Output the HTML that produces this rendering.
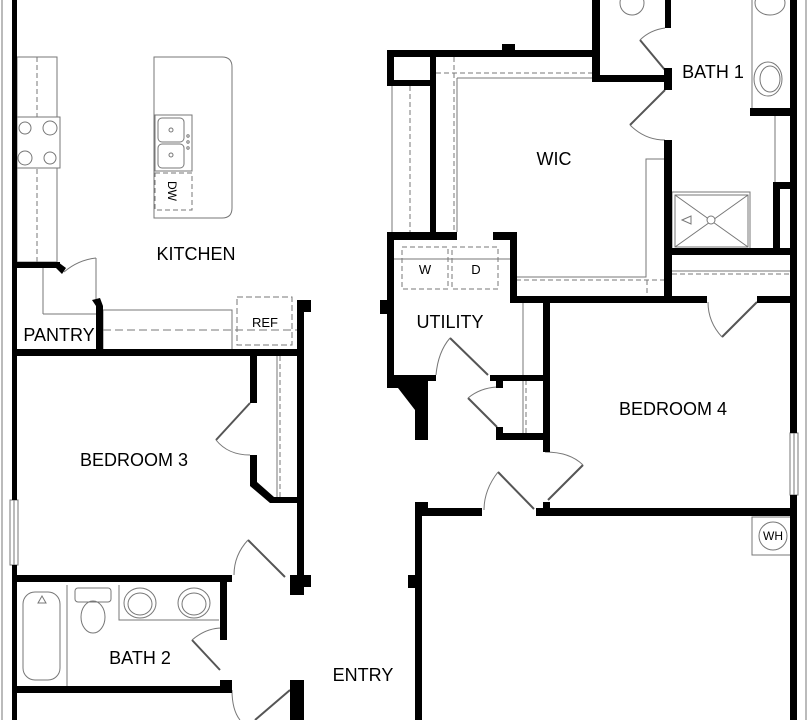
<!DOCTYPE html>
<html><head><style>html,body{margin:0;padding:0;background:#fff;}svg{display:block}</style></head>
<body>
<svg width="809" height="720" viewBox="0 0 809 720" xmlns="http://www.w3.org/2000/svg" font-family="Liberation Sans, sans-serif">
<g fill="none" stroke="#777" stroke-width="1">
 <line x1="2" y1="0" x2="2" y2="720"/>
 <line x1="806" y1="0" x2="806" y2="720"/>
 <rect x="17" y="57" width="40" height="205"/>
 <line x1="37" y1="57" x2="37" y2="262" stroke-dasharray="5,3"/>
 <rect x="17" y="117" width="43" height="51" fill="#fff"/>
 <circle cx="25" cy="128" r="6"/><circle cx="50" cy="128" r="7"/>
 <circle cx="25" cy="158" r="7"/><circle cx="50" cy="158" r="6"/>
 <path d="M154 57 H222 Q232 57 232 67 V208 Q232 218 222 218 H154 Z"/>
 <rect x="155" y="115" width="37" height="56"/>
 <rect x="158" y="118" width="26" height="24" rx="4"/>
 <rect x="158" y="144" width="26" height="24" rx="4"/>
 <circle cx="171" cy="130" r="2"/><circle cx="171" cy="155" r="2"/>
 <circle cx="188" cy="136" r="1.2"/><circle cx="188" cy="142" r="1.2"/><circle cx="188" cy="148" r="1.2"/>
 <rect x="155" y="173" width="37" height="37" stroke-dasharray="5,3"/>
 <line x1="43" y1="268" x2="43" y2="314"/>
 <line x1="43" y1="314" x2="98" y2="314"/>
 <line x1="96" y1="258" x2="96" y2="300"/>
 <path d="M64 272 Q78 260 96 258"/>
 <rect x="103" y="310" width="129" height="40"/>
 <line x1="103" y1="330" x2="297" y2="330" stroke-dasharray="8,4"/>
 <rect x="237" y="297" width="55" height="48" stroke-dasharray="6,3"/>
 <line x1="277" y1="356" x2="277" y2="497"/>
 <line x1="280" y1="356" x2="280" y2="497" stroke-dasharray="5,3"/>
 <path d="M250 403 L216 440" stroke-width="2" stroke="#555"/>
 <path d="M216 440 Q228 455 250 455"/>
 <path d="M248 540 L285 577" stroke-width="2" stroke="#555"/>
 <path d="M248 540 Q234 555 234 575"/>
 <rect x="10" y="500" width="8" height="65" fill="#fff"/>
 <line x1="14" y1="500" x2="14" y2="565"/>
 <rect x="790" y="433" width="8" height="62" fill="#fff"/>
 <line x1="794" y1="433" x2="794" y2="495"/>
 <rect x="23" y="592" width="37" height="88" rx="12"/>
 <path d="M38 603 L42 596 L46 603 Z"/>
 <line x1="67" y1="585" x2="67" y2="686"/>
 <rect x="75" y="588" width="36" height="14" rx="3"/>
 <ellipse cx="93" cy="617" rx="12" ry="16"/>
 <path d="M119 585 V620 H219"/>
 <ellipse cx="140" cy="603" rx="16" ry="15"/><ellipse cx="140" cy="604" rx="12" ry="11"/>
 <ellipse cx="194" cy="603" rx="16" ry="15"/><ellipse cx="194" cy="604" rx="12" ry="11"/>
 <path d="M192 640 L220 670" stroke-width="2" stroke="#555"/>
 <path d="M192 640 Q206 628 222 628"/>
 <path d="M290 690 L255 720" stroke-width="2" stroke="#555"/>
 <path d="M232 690 Q232 710 240 720"/>
 <line x1="392" y1="86" x2="392" y2="235"/>
 <line x1="410" y1="86" x2="410" y2="235" stroke-dasharray="5,3"/>
 <line x1="454" y1="57" x2="454" y2="232" stroke-dasharray="5,3"/>
 <line x1="436" y1="73" x2="592" y2="73" stroke-dasharray="5,3"/>
 <path d="M457 78 H592 M457 78 V232"/>
 <path d="M516 277 H646 V159 H665"/>
 <line x1="516" y1="280" x2="665" y2="280" stroke-dasharray="5,3"/>
 <line x1="647" y1="280" x2="647" y2="296" stroke-dasharray="5,3"/>
 <line x1="394" y1="259" x2="510" y2="259"/>
 <rect x="402" y="247" width="46" height="42" stroke-dasharray="5,3"/>
 <rect x="452" y="247" width="46" height="42" stroke-dasharray="5,3"/>
 <ellipse cx="632" cy="3" rx="12" ry="12"/>
 <path d="M640 40 L665 70" stroke-width="2" stroke="#555"/>
 <path d="M640 40 Q650 30 665 28"/>
 <path d="M665 90 L630 125" stroke-width="2" stroke="#555"/>
 <path d="M630 125 Q645 140 665 140"/>
 <line x1="752" y1="0" x2="752" y2="108"/>
 <ellipse cx="770" cy="3" rx="15" ry="12"/>
 <ellipse cx="768" cy="79" rx="14" ry="17"/><ellipse cx="770" cy="79" rx="10" ry="13"/>
 <line x1="775" y1="116" x2="775" y2="190"/>
 <rect x="672" y="192" width="78" height="58"/>
 <rect x="675" y="195" width="73" height="52"/>
 <path d="M675 195 L748 247 M748 195 L675 247"/>
 <circle cx="711" cy="220" r="4" fill="#fff"/>
 <path d="M682 220 L691 216 V224 Z"/>
 <line x1="672" y1="271" x2="790" y2="271"/>
 <line x1="672" y1="274" x2="790" y2="274" stroke-dasharray="5,3"/>
 <path d="M757 302 L722 337" stroke-width="2" stroke="#555"/>
 <path d="M722 337 Q708 322 708 302"/>
 <line x1="523" y1="302" x2="523" y2="433"/>
 <line x1="526" y1="380" x2="526" y2="433" stroke-dasharray="5,3"/>
 <path d="M450 338 L488 375" stroke-width="2" stroke="#555"/>
 <path d="M450 338 Q438 352 436 375"/>
 <path d="M468 398 L497 427" stroke-width="2" stroke="#555"/>
 <path d="M468 398 Q480 388 497 387"/>
 <path d="M583 465 L548 500" stroke-width="2" stroke="#555"/>
 <path d="M583 465 Q570 452 545 452"/>
 <path d="M498 472 L534 509" stroke-width="2" stroke="#555"/>
 <path d="M498 472 Q484 490 484 510"/>
 <path d="M790 517 H752 V555 H790"/>
 <circle cx="773" cy="536" r="14"/>
</g>
<g fill="#000">
 <rect x="12" y="0" width="5" height="500"/>
 <rect x="12" y="565" width="5" height="155"/>
 <rect x="12" y="262" width="48" height="6"/>
 <polygon points="58,262 66,268 62,274 56,268"/>
 <polygon points="92,300 100,298 103,306 103,350 96,350 96,306"/>
 <rect x="12" y="349" width="290" height="7"/>
 <rect x="297" y="300" width="14" height="12"/>
 <rect x="297" y="300" width="7" height="278"/>
 <rect x="250" y="356" width="7" height="47"/>
 <polygon points="250,455 257,455 257,482 274,497 300,497 300,503 270,503 250,486"/>
 <rect x="12" y="575" width="220" height="7"/>
 <rect x="290" y="575" width="21" height="12"/>
 <rect x="290" y="575" width="14" height="20"/>
 <rect x="220" y="582" width="7" height="58"/>
 <rect x="12" y="686" width="220" height="7"/>
 <rect x="220" y="680" width="12" height="10"/>
 <rect x="290" y="680" width="14" height="40"/>
 <rect x="380" y="300" width="8" height="14"/>
 <rect x="387" y="50" width="205" height="7"/>
 <rect x="502" y="44" width="13" height="7"/>
 <rect x="387" y="50" width="7" height="36"/>
 <rect x="387" y="80" width="49" height="6"/>
 <rect x="430" y="57" width="6" height="178"/>
 <rect x="387" y="232" width="70" height="8"/>
 <rect x="493" y="232" width="24" height="8"/>
 <rect x="387" y="232" width="7" height="148"/>
 <polygon points="387,375 436,375 436,381 428,381 428,440 415,440 415,410 398,388 387,388"/>
 <rect x="510" y="232" width="7" height="70"/>
 <rect x="510" y="296" width="197" height="7"/>
 <rect x="757" y="296" width="40" height="7"/>
 <rect x="490" y="375" width="60" height="6"/>
 <rect x="496" y="380" width="7" height="8"/>
 <rect x="496" y="427" width="7" height="13"/>
 <rect x="496" y="433" width="54" height="7"/>
 <rect x="543" y="300" width="7" height="152"/>
 <rect x="592" y="0" width="8" height="82"/>
 <rect x="592" y="75" width="80" height="7"/>
 <rect x="665" y="0" width="6" height="28"/>
 <rect x="664" y="68" width="8" height="22"/>
 <rect x="664" y="140" width="8" height="156"/>
 <rect x="750" y="108" width="47" height="8"/>
 <rect x="790" y="0" width="7" height="433"/>
 <rect x="790" y="495" width="7" height="225"/>
 <rect x="773" y="182" width="24" height="7"/>
 <rect x="773" y="182" width="7" height="68"/>
 <rect x="672" y="248" width="125" height="7"/>
 <rect x="415" y="508" width="67" height="8"/>
 <rect x="415" y="502" width="13" height="10"/>
 <rect x="536" y="508" width="261" height="8"/>
 <rect x="543" y="502" width="7" height="10"/>
 <rect x="415" y="508" width="7" height="212"/>
 <rect x="408" y="575" width="12" height="13"/>
</g>
<g fill="#000" font-size="18" text-anchor="middle">
 <text x="196" y="260">KITCHEN</text>
 <text x="59" y="341">PANTRY</text>
 <text x="134" y="466">BEDROOM 3</text>
 <text x="140" y="664">BATH 2</text>
 <text x="363" y="681">ENTRY</text>
 <text x="450" y="328">UTILITY</text>
 <text x="554" y="165">WIC</text>
 <text x="713" y="78">BATH 1</text>
 <text x="673" y="415">BEDROOM 4</text>
 <text x="265" y="327" font-size="13">REF</text>
 <text x="425" y="274" font-size="13">W</text>
 <text x="476" y="274" font-size="13">D</text>
 <text x="773" y="540" font-size="12">WH</text>
 <text x="0" y="0" font-size="12" transform="translate(168,191) rotate(90)">DW</text>
</g>
</svg>
</body></html>
